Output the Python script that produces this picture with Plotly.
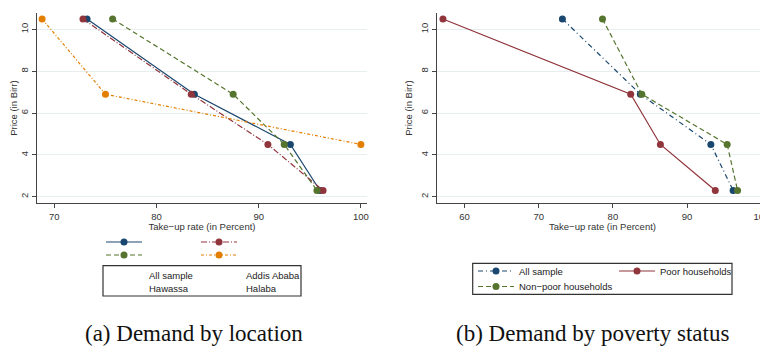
import plotly.graph_objects as go

# The page places the figure 8px from the top-left corner (default body margin),
# so the figure is 760x340 and reference pixel positions are shifted by 8.
OFF = 8
W, H = 768 - OFF, 348 - OFF

# ---------------- data ----------------
price = [10.5, 6.9, 4.5, 2.3]

# (a) by location
loc_all = [73.2, 83.7, 93.1, 96.0]
loc_addis = [72.8, 83.4, 90.9, 96.3]
loc_hawassa = [75.7, 87.5, 92.5, 95.7]
loc_halaba = [68.8, 75.0, 100.0, None]

# (b) by poverty status
pov_all = [73.2, 83.7, 93.2, 96.2]
pov_poor = [57.1, 82.4, 86.4, 93.8]
pov_nonpoor = [78.6, 83.9, 95.4, 96.8]

x_ticks_a = [70, 80, 90, 100]
x_ticks_b = [60, 70, 80, 90, 100]
y_ticks = [2, 4, 6, 8, 10]

x_title = "Take\u2212up rate (in Percent)"
y_title = "Price (in Birr)"
caption_a = "(a) Demand by location"
caption_b = "(b) Demand by poverty status"

NAVY = "#1a476f"
MAROON = "#90353b"
GREEN = "#55752f"
ORANGE = "#e37e00"

def px(x):
    return (x - OFF) / W

def py(y):
    return 1 - (y - OFF) / H

fig = go.Figure()

def add(xv, name, color, dash, xaxis, yaxis, legend, label):
    fig.add_trace(go.Scatter(
        x=xv, y=price, mode="lines+markers", name=label,
        line=dict(color=color, width=1.2, dash=dash),
        marker=dict(color=color, size=7, symbol="circle"),
        xaxis=xaxis, yaxis=yaxis, legend=legend,
        hovertemplate=name + ": %{x}<br>Price: %{y}<extra></extra>",
        connectgaps=False,
    ))

# left panel (legend shows only the line keys; labels go in the box below)
add(loc_all, "All sample", NAVY, "solid", "x", "y", "legend", " ")
add(loc_addis, "Addis Ababa", MAROON, "6px,2px,1px,2px", "x", "y", "legend", " ")
add(loc_hawassa, "Hawassa", GREEN, "5px,3px", "x", "y", "legend2", " ")
add(loc_halaba, "Halaba", ORANGE, "3px,2px,1px,2px", "x", "y", "legend2", " ")

# right panel
add(pov_all, "All sample", NAVY, "5px,3px,1px,3px", "x2", "y2", "legend3", "All sample")
add(pov_poor, "Poor households", MAROON, "solid", "x2", "y2", "legend3", "Poor households")
add(pov_nonpoor, "Non\u2212poor households", GREEN, "5px,3px", "x2", "y2", "legend4", "Non\u2212poor households")

FONT = "Liberation Sans, Arial, sans-serif"
TICKFONT = dict(family=FONT, size=9.5, color="#333333")
GRID = "#e6eef0"
AX = "#444444"

common_x = dict(showline=True, linecolor=AX, linewidth=1.2, ticks="outside",
                ticklen=4, tickcolor=AX, showgrid=False, zeroline=False, automargin=False,
                ticklabeloverflow="allow",
                tickfont=TICKFONT, title=dict(text=x_title, font=dict(family=FONT, size=9.5, color="#333333"), standoff=0))
common_y = dict(showline=True, linecolor=AX, linewidth=1.2, ticks="outside",
                ticklen=4, tickcolor=AX, showgrid=True, gridcolor=GRID, gridwidth=1,
                zeroline=False, automargin=False, tickfont=TICKFONT, tickangle=-90, tickvals=y_ticks,
                range=[1.7, 10.77],
                title=dict(text=y_title, font=dict(family=FONT, size=9.5, color="#333333"), standoff=4))

ydom = [py(203), py(13.3)]

leg_common = dict(orientation="h", bgcolor="rgba(0,0,0,0)", borderwidth=0,
                  font=dict(family=FONT, size=9.5, color="#222222"),
                  xanchor="left", yanchor="top", itemclick=False, itemdoubleclick=False,
                  tracegroupgap=0, itemwidth=36)

fig.update_layout(
    template="none",
    width=W, height=H,
    margin=dict(l=0, r=0, t=0, b=0, autoexpand=False),
    paper_bgcolor="white", plot_bgcolor="white",
    showlegend=True,
    xaxis=dict(domain=[px(37), px(367)], range=[68.3, 100.6], tickvals=x_ticks_a, anchor="y", **common_x),
    yaxis=dict(domain=ydom, anchor="x", **common_y),
    xaxis2=dict(domain=[px(437), 1.0], range=[56.3, 100.9], tickvals=x_ticks_b, anchor="y2", **common_x),
    yaxis2=dict(domain=ydom, anchor="x2", **common_y),
    legend=dict(x=px(101), y=py(227.5), entrywidth=44, **leg_common),
    legend2=dict(x=px(101), y=py(240.5), entrywidth=44, **leg_common),
    legend3=dict(x=px(473), y=py(256.5), entrywidth=90, **leg_common),
    legend4=dict(x=px(473), y=py(272), entrywidth=90, **leg_common),
)

shapes = [
    dict(type="rect", xref="paper", yref="paper", x0=px(103), x1=px(301), y0=py(296), y1=py(265.7),
         line=dict(color="#333333", width=1.2), fillcolor="rgba(0,0,0,0)"),
    dict(type="rect", xref="paper", yref="paper", x0=px(472.7), x1=px(732), y0=py(294.3), y1=py(263.3),
         line=dict(color="#333333", width=1.2), fillcolor="rgba(0,0,0,0)"),
]
fig.update_layout(shapes=shapes)

box_labels = [("All sample", 147, 275), ("Addis Ababa", 244, 275),
              ("Hawassa", 147, 288), ("Halaba", 244, 288)]
ann = []
for t, x, y in box_labels:
    ann.append(dict(text=t, x=px(x), y=py(y), xref="paper", yref="paper",
                    xanchor="left", yanchor="middle", showarrow=False,
                    font=dict(family=FONT, size=9.5, color="#222222")))
for t, x in [(caption_a, 193.5), (caption_b, 592)]:
    ann.append(dict(text=t, x=px(x), y=py(333.5), xref="paper", yref="paper",
                    xanchor="center", yanchor="middle", showarrow=False,
                    font=dict(family="Liberation Serif, Times New Roman, serif", size=23, color="#111111")))
fig.update_layout(annotations=ann)

fig.write_html("out.html")
